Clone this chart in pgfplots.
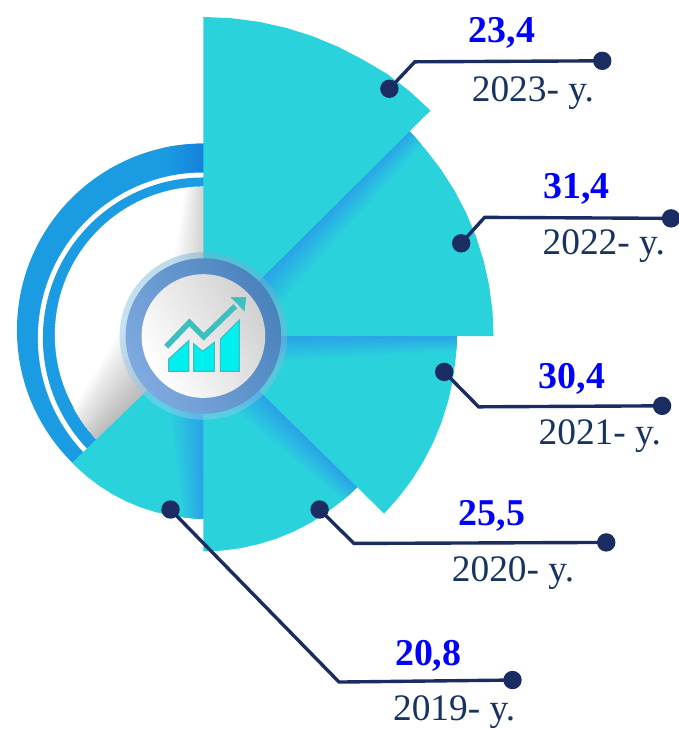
\documentclass[border=0pt]{standalone}
\usepackage{pgfplots}
\usepackage{fontspec}
\setmainfont{Liberation Serif}
\pgfplotsset{compat=1.18}
\definecolor{teal1}{HTML}{2AD3DC}
\definecolor{shade1}{HTML}{2AA3E8}
\definecolor{ringb}{HTML}{1B9CE2}
\definecolor{ringd}{HTML}{1480DA}
\definecolor{navy1}{HTML}{1A2C62}
\definecolor{yeart}{HTML}{17335F}
\definecolor{icon1}{HTML}{00F0F0}
\definecolor{icon2}{HTML}{3CBFBE}
\definecolor{ringa}{HTML}{4A82BC}
\definecolor{ringc}{HTML}{7FAAE0}
% decorative shadow cast by one wedge on the next: nested strips beside an edge
\newcommand\band[6]{%
  \pgfplotsforeachungrouped \i in {16,15,...,1}{%
    \pgfmathsetmacro\d{#4*\i/16}%
    \pgfmathsetmacro\aA{#1+#2*asin(1.15*\d/80)}%
    \pgfmathsetmacro\aB{#1+#2*asin(0.7*\d/#3)}%
    \pgfmathsetmacro\aM{(#1+\aB)/2}%
    \pgfmathsetmacro\mix{100*(\i-1)/16}%
    \edef\temp{\noexpand\addplot[fill=#5!\mix!#6,draw=none,data cs=polar,forget plot]
      coordinates {(#1,0)(\aA,80)(\aB,#3)(\aM,#3)(#1,#3)} --cycle;}%
    \temp
  }%
}
\newcommand\val[3]{\node[anchor=base west,inner sep=0pt,text=blue] at (axis cs:#1,#2)
  {\fontsize{38bp}{40bp}\selectfont\bfseries #3};}
\newcommand\yr[3]{\node[anchor=base west,inner sep=0pt,text=yeart] at (axis cs:#1,#2)
  {\fontsize{37.5bp}{40bp}\selectfont #3};}
\begin{document}
\begin{tikzpicture}
\begin{axis}[
  scale only axis, width=680bp, height=729bp,
  xmin=-204, xmax=476, ymin=-392, ymax=337,
  hide axis, clip=false]
\path (axis cs:-204,-392) rectangle (axis cs:476,337);
% background rings
\fill[ringb] (axis cs:0,6) circle[radius=187];
\begin{scope}
  \clip (axis cs:0,6) circle[radius=187];
  \shade[left color=ringb,right color=ringd] (axis cs:-40,150) rectangle (axis cs:2,200);
\end{scope}
\fill[white] (axis cs:0,-2) circle[radius=166];
\fill[ringb] (axis cs:0,-2) circle[radius=161];
\fill[white] (axis cs:0,1) circle[radius=149];
\band{90}{1}{149}{26}{white}{black!17}
\band{224}{-1}{149}{55}{white}{black!26}
% wedges, from the lowest up
\addplot[fill=teal1,draw=none,data cs=polar] coordinates {(0,0)(-136,183)(-130,183)(-125,183)(-120,183)(-115,183)(-110,183)(-105,183)(-100,183)(-95,183)(-90,183)} --cycle;
\band{-90}{-1}{183}{30}{teal1}{shade1}
\addplot[fill=teal1,draw=none,data cs=polar] coordinates {(0,0)(-90,216)(-85,216)(-80,216)(-75,216)(-70,216)(-65,216)(-60,216)(-55,216)(-50,216)(-44.5,216)} --cycle;
\band{-44.5}{-1}{216}{28}{teal1}{shade1}
\addplot[fill=teal1,draw=none,data cs=polar] coordinates {(0,0)(-44.5,254)(-40,254)(-35,254)(-30,254)(-25,254)(-20,254)(-15,254)(-10,254)(-5,254)(0,254)} --cycle;
\band{0}{-1}{254}{22}{teal1}{shade1}
\addplot[fill=teal1,draw=none,data cs=polar] coordinates {(0,0)(0,291)(5,291)(10,291)(15,291)(20,291)(25,291)(30,291)(35,291)(40,291)(45,291)} --cycle;
\band{45}{-1}{291}{28}{teal1}{shade1}
\addplot[fill=teal1,draw=none,data cs=polar] coordinates {(0,0)(44.8,321)(50,321)(55,321)(60,320)(65,320)(70,320)(75,320)(80,320)(85,320)(90,320)} --cycle;
% centre
\fill[shade1,opacity=.3] (axis cs:0,0) circle[radius=84];
\shade[top color=black!28,bottom color=black!4,shading angle=-30,opacity=.25] (axis cs:0,0) circle[radius=84];
\shade[left color=ringa,right color=ringc,shading angle=-60] (axis cs:0,0) circle[radius=78];
\shade[left color=black!18,right color=white,shading angle=-60] (axis cs:0,0) circle[radius=62];
% icon
\addplot[fill=icon1,draw=icon2,line width=1.2bp] coordinates {(-34.7,-23)(-14.7,-4.7)(-14.7,-35.3)(-34.7,-35.3)} --cycle;
\addplot[fill=icon1,draw=icon2,line width=1.2bp] coordinates {(-9.7,-8)(-0.7,-15.3)(11,-6.3)(11,-35.3)(-9.7,-35.3)} --cycle;
\addplot[fill=icon1,draw=icon2,line width=1.2bp] coordinates {(17,-3)(36,16)(36,-35.3)(17,-35.3)} --cycle;
\addplot[draw=icon2,line width=5.5bp] coordinates {(-37.3,-10.7)(-14,13.7)(0.3,-0.7)(32,30)};
\addplot[fill=icon2,draw=icon2] coordinates {(27.7,38.7)(42.7,38.7)(41,25.3)} --cycle;
% leaders
\addplot[navy1,line width=3.4bp,mark=*,mark size=7.5bp,mark indices={1,3},mark options={fill=navy1,draw=navy1,solid}] coordinates {(186.5,248)(212,275)(400,276)};
\addplot[navy1,line width=3.4bp,mark=*,mark size=7.5bp,mark indices={1,3},mark options={fill=navy1,draw=navy1,solid}] coordinates {(258.5,93)(282,119)(469,118)};
\addplot[navy1,line width=3.4bp,mark=*,mark size=7.5bp,mark indices={1,3},mark options={fill=navy1,draw=navy1,solid}] coordinates {(241.5,-36)(276,-71)(460,-70)};
\addplot[navy1,line width=3.4bp,mark=*,mark size=7.5bp,mark indices={1,3},mark options={fill=navy1,draw=navy1,solid}] coordinates {(116.5,-174)(151,-208)(404,-207)};
\addplot[navy1,line width=3.4bp,mark=*,mark size=7.5bp,mark indices={1,3},mark options={fill=navy1,draw=navy1,solid}] coordinates {(-33,-174)(136,-347)(310,-345)};
% labels
\val{266}{294}{23,4}\yr{269}{235}{2023- y.}
\val{341}{138}{31,4}\yr{340}{82}{2022- y.}
\val{336}{-53}{30,4}\yr{336}{-109}{2021- y.}
\val{256}{-190}{25,5}\yr{249}{-246}{2020- y.}
\val{192}{-330}{20,8}\yr{190}{-386}{2019- y.}
\end{axis}
\end{tikzpicture}
\end{document}
